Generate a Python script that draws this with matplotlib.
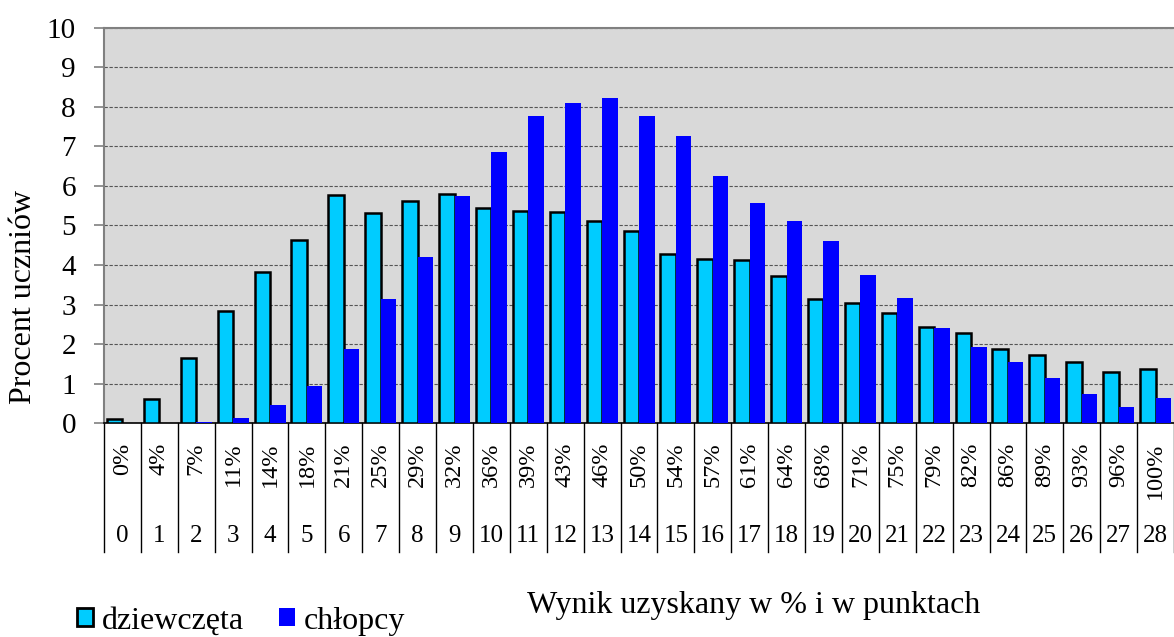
import numpy as np
import matplotlib
matplotlib.use('Agg')
import matplotlib.pyplot as plt
from matplotlib.patches import Patch

############ data ############
points = list(range(29))
pct_labels = ['0%', '4%', '7%', '11%', '14%', '18%', '21%', '25%', '29%', '32%',
              '36%', '39%', '43%', '46%', '50%', '54%', '57%', '61%', '64%', '68%',
              '71%', '75%', '79%', '82%', '86%', '89%', '93%', '96%', '100%']
girls = [0.12, 0.61, 1.64, 2.84, 3.83, 4.63, 5.77, 5.32, 5.62, 5.79,
         5.43, 5.37, 5.33, 5.11, 4.86, 4.28, 4.15, 4.12, 3.72, 3.15,
         3.04, 2.78, 2.43, 2.29, 1.89, 1.73, 1.54, 1.30, 1.38]
boys = [0.0, 0.0, 0.03, 0.13, 0.46, 0.93, 1.89, 3.14, 4.21, 5.74,
        6.86, 7.76, 8.09, 8.22, 7.78, 7.25, 6.26, 5.57, 5.12, 4.60,
        3.75, 3.16, 2.42, 1.94, 1.54, 1.14, 0.74, 0.42, 0.63]

plt.rcParams['font.family'] = ['Liberation Serif', 'DejaVu Serif']

fig = plt.figure(figsize=(11.74, 6.37), dpi=100)
ax = fig.add_axes([0.0886, 0.3355, 0.9114, 0.621])
ax.set_facecolor('#d9d9d9')

x = np.array(points)
w = 0.42
ax.bar(x - w/2, girls, w, color='#00ccff', edgecolor='black', linewidth=1.8, zorder=3)
ax.bar(x + w/2, boys, w, color='#0000ff', edgecolor='none', zorder=3)

ax.set_xlim(-0.5, 28.5)
ax.set_ylim(0, 10)
ax.set_yticks(range(11))
ax.tick_params(axis='y', labelsize=21, length=7.2, color='#808080', width=1.2, pad=13)
ax.yaxis.grid(True, linestyle=(0, (3, 1.5)), color='#555555', linewidth=0.8, zorder=1)
ax.set_xticks([])
for s in ['left', 'top']:
    ax.spines[s].set_color('#808080')
    ax.spines[s].set_linewidth(1.5)
ax.spines['right'].set_visible(False)
ax.spines['bottom'].set_color('black')
ax.spines['bottom'].set_linewidth(1.2)

# category table under the axis
for b in np.arange(-0.5, 29.0, 1.0):
    ax.plot([b, b], [0, -3.25], color='black', linewidth=1, clip_on=False)
for i, (p, lab) in enumerate(zip(points, pct_labels)):
    ax.text(i, -0.48, lab, rotation=90, ha='center', va='top', fontsize=17.5)
    ax.text(i, -2.86, str(p), ha='center', va='center', fontsize=18)

fig.text(0.0204, 0.5345, 'Procent uczniów', rotation=90, ha='center', va='center', fontsize=23)
fig.text(0.6423, 0.0377, 'Wynik uzyskany w % i w punktach', ha='center', va='baseline', fontsize=23)

handles = [Patch(facecolor='#00ccff', edgecolor='black', linewidth=2),
           Patch(facecolor='#0000ff', edgecolor='none')]
fig.legend(handles, ['dziewczęta', 'chłopcy'], loc='center left', bbox_to_anchor=(0.0656, 0.0251),
           ncol=2, frameon=False, fontsize=23, handlelength=0.5, handleheight=0.5,
           handletextpad=0.28, columnspacing=1.1, borderaxespad=0, borderpad=0)

fig.savefig('out.png', dpi=100)
